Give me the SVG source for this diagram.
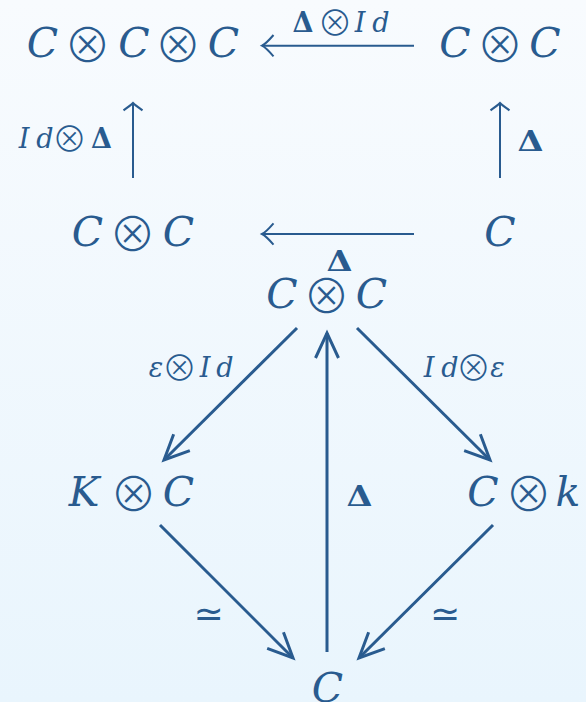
<svg xmlns="http://www.w3.org/2000/svg" width="586" height="702" viewBox="0 0 586 702">
<defs>
<linearGradient id="bg" x1="0" y1="0" x2="0" y2="1">
<stop offset="0" stop-color="#f8fbfe"/>
<stop offset="1" stop-color="#e9f5fd"/>
</linearGradient>
<marker id="ah" markerUnits="userSpaceOnUse" viewBox="-30 -16 34 32" markerWidth="34" markerHeight="32" refX="0" refY="0" orient="auto" overflow="visible">
<path d="M-25,-11.5 L0,0 L-25,11.5" fill="none" stroke="#295b8f" stroke-width="3"/>
</marker>
<marker id="ahh" markerUnits="userSpaceOnUse" viewBox="-14 -13 16 26" markerWidth="16" markerHeight="26" refX="0" refY="0" orient="auto" overflow="visible">
<path d="M-11.5,-10.7 Q-4,-2 0,0 Q-4,2 -11.5,10.7" fill="none" stroke="#295b8f" stroke-width="2"/>
</marker>
<marker id="ahv" markerUnits="userSpaceOnUse" viewBox="-10 -12 12 24" markerWidth="12" markerHeight="24" refX="0" refY="0" orient="auto" overflow="visible">
<path d="M-7.3,-9.5 Q-2,-2 0,0 Q-2,2 -7.3,9.5" fill="none" stroke="#295b8f" stroke-width="2.2"/>
</marker>
</defs>
<style>
text{fill:#295b8f;text-anchor:middle;font-family:"DejaVu Serif",serif}
.n{font-style:italic;font-size:41px}
.l{font-style:italic;font-size:27px}
.o{font-family:"Noto Sans CJK JP",sans-serif;font-style:normal;font-weight:300;font-size:47px}
.os{font-family:"Noto Sans CJK JP",sans-serif;font-style:normal;font-weight:300;font-size:35px}
.g{font-style:normal;font-weight:bold;font-size:27px}
.s{font-family:"DejaVu Sans",sans-serif;font-style:normal;font-size:36px}
.up{fill:none;stroke:#295b8f;stroke-width:2}
.lo{fill:none;stroke:#295b8f;stroke-width:3;marker-end:url(#ah)}
</style>
<rect width="586" height="702" fill="url(#bg)"/>
<g id="connectors">
<line class="up" x1="414" y1="45.7" x2="262" y2="45.7" marker-end="url(#ahh)"/>
<line class="up" x1="414" y1="234" x2="262" y2="234" marker-end="url(#ahh)"/>
<line class="up" x1="133" y1="178" x2="133" y2="103" stroke-width="2.2" marker-end="url(#ahv)"/>
<line class="up" x1="500" y1="178" x2="500" y2="103" stroke-width="2.2" marker-end="url(#ahv)"/>
<line class="lo" x1="297" y1="328" x2="164" y2="460"/>
<line class="lo" x1="357" y1="328" x2="490" y2="460"/>
<line class="lo" x1="327" y1="652" x2="327" y2="333"/>
<line class="lo" x1="160" y1="525" x2="293" y2="658"/>
<line class="lo" x1="493" y1="525" x2="359" y2="658"/>
</g>
<g id="labels">
<text y="32"><tspan class="g" x="303">Δ</tspan><tspan class="os" x="335" dy="4">⊗</tspan><tspan class="l" x="360" dy="-4">I</tspan><tspan class="l" x="381">d</tspan></text>
<text y="148"><tspan class="l" x="24">I</tspan><tspan class="l" x="45">d</tspan><tspan class="os" x="69.5" dy="4">⊗</tspan><tspan class="g" x="101.5" dy="-4">Δ</tspan></text>
<text class="g" x="530.5" y="151" textLength="26" lengthAdjust="spacingAndGlyphs">Δ</text>
<text class="g" x="339.5" y="271" textLength="26" lengthAdjust="spacingAndGlyphs">Δ</text>
<text y="377"><tspan class="l" x="156">ε</tspan><tspan class="os" x="179.5" dy="4">⊗</tspan><tspan class="l" x="205" dy="-4">I</tspan><tspan class="l" x="225">d</tspan></text>
<text y="377"><tspan class="l" x="429">I</tspan><tspan class="l" x="450">d</tspan><tspan class="os" x="473.5" dy="4">⊗</tspan><tspan class="l" x="497.5" dy="-4">ε</tspan></text>
<text class="g" x="359.5" y="506" textLength="26" lengthAdjust="spacingAndGlyphs">Δ</text>
<text class="s" x="208.5" y="626">≃</text>
<text class="s" x="445" y="626">≃</text>
</g>
<g id="n-CCC"><text y="57"><tspan class="n" x="42.5">C</tspan><tspan class="o" x="87.5" dy="5">⊗</tspan><tspan class="n" x="134" dy="-5">C</tspan><tspan class="o" x="178" dy="5">⊗</tspan><tspan class="n" x="223.5" dy="-5">C</tspan></text></g>
<g id="n-CC-top"><text y="57"><tspan class="n" x="455">C</tspan><tspan class="o" x="500" dy="5">⊗</tspan><tspan class="n" x="545" dy="-5">C</tspan></text></g>
<g id="n-CC-left"><text y="246"><tspan class="n" x="87.5">C</tspan><tspan class="o" x="132.5" dy="5">⊗</tspan><tspan class="n" x="178.5" dy="-5">C</tspan></text></g>
<g id="n-C-right"><text class="n" x="500" y="246">C</text></g>
<g id="n-CC-mid"><text y="308"><tspan class="n" x="282">C</tspan><tspan class="o" x="326.5" dy="5">⊗</tspan><tspan class="n" x="371.5" dy="-5">C</tspan></text></g>
<g id="n-KC"><text y="506"><tspan class="n" x="84">K</tspan><tspan class="o" x="133.5" dy="5">⊗</tspan><tspan class="n" x="178.5" dy="-5">C</tspan></text></g>
<g id="n-Ck"><text y="506"><tspan class="n" x="483">C</tspan><tspan class="o" x="528.5" dy="5">⊗</tspan><tspan class="n" x="568" dy="-5">k</tspan></text></g>
<g id="n-C-bottom"><text class="n" x="327.5" y="702">C</text></g>
</svg>
